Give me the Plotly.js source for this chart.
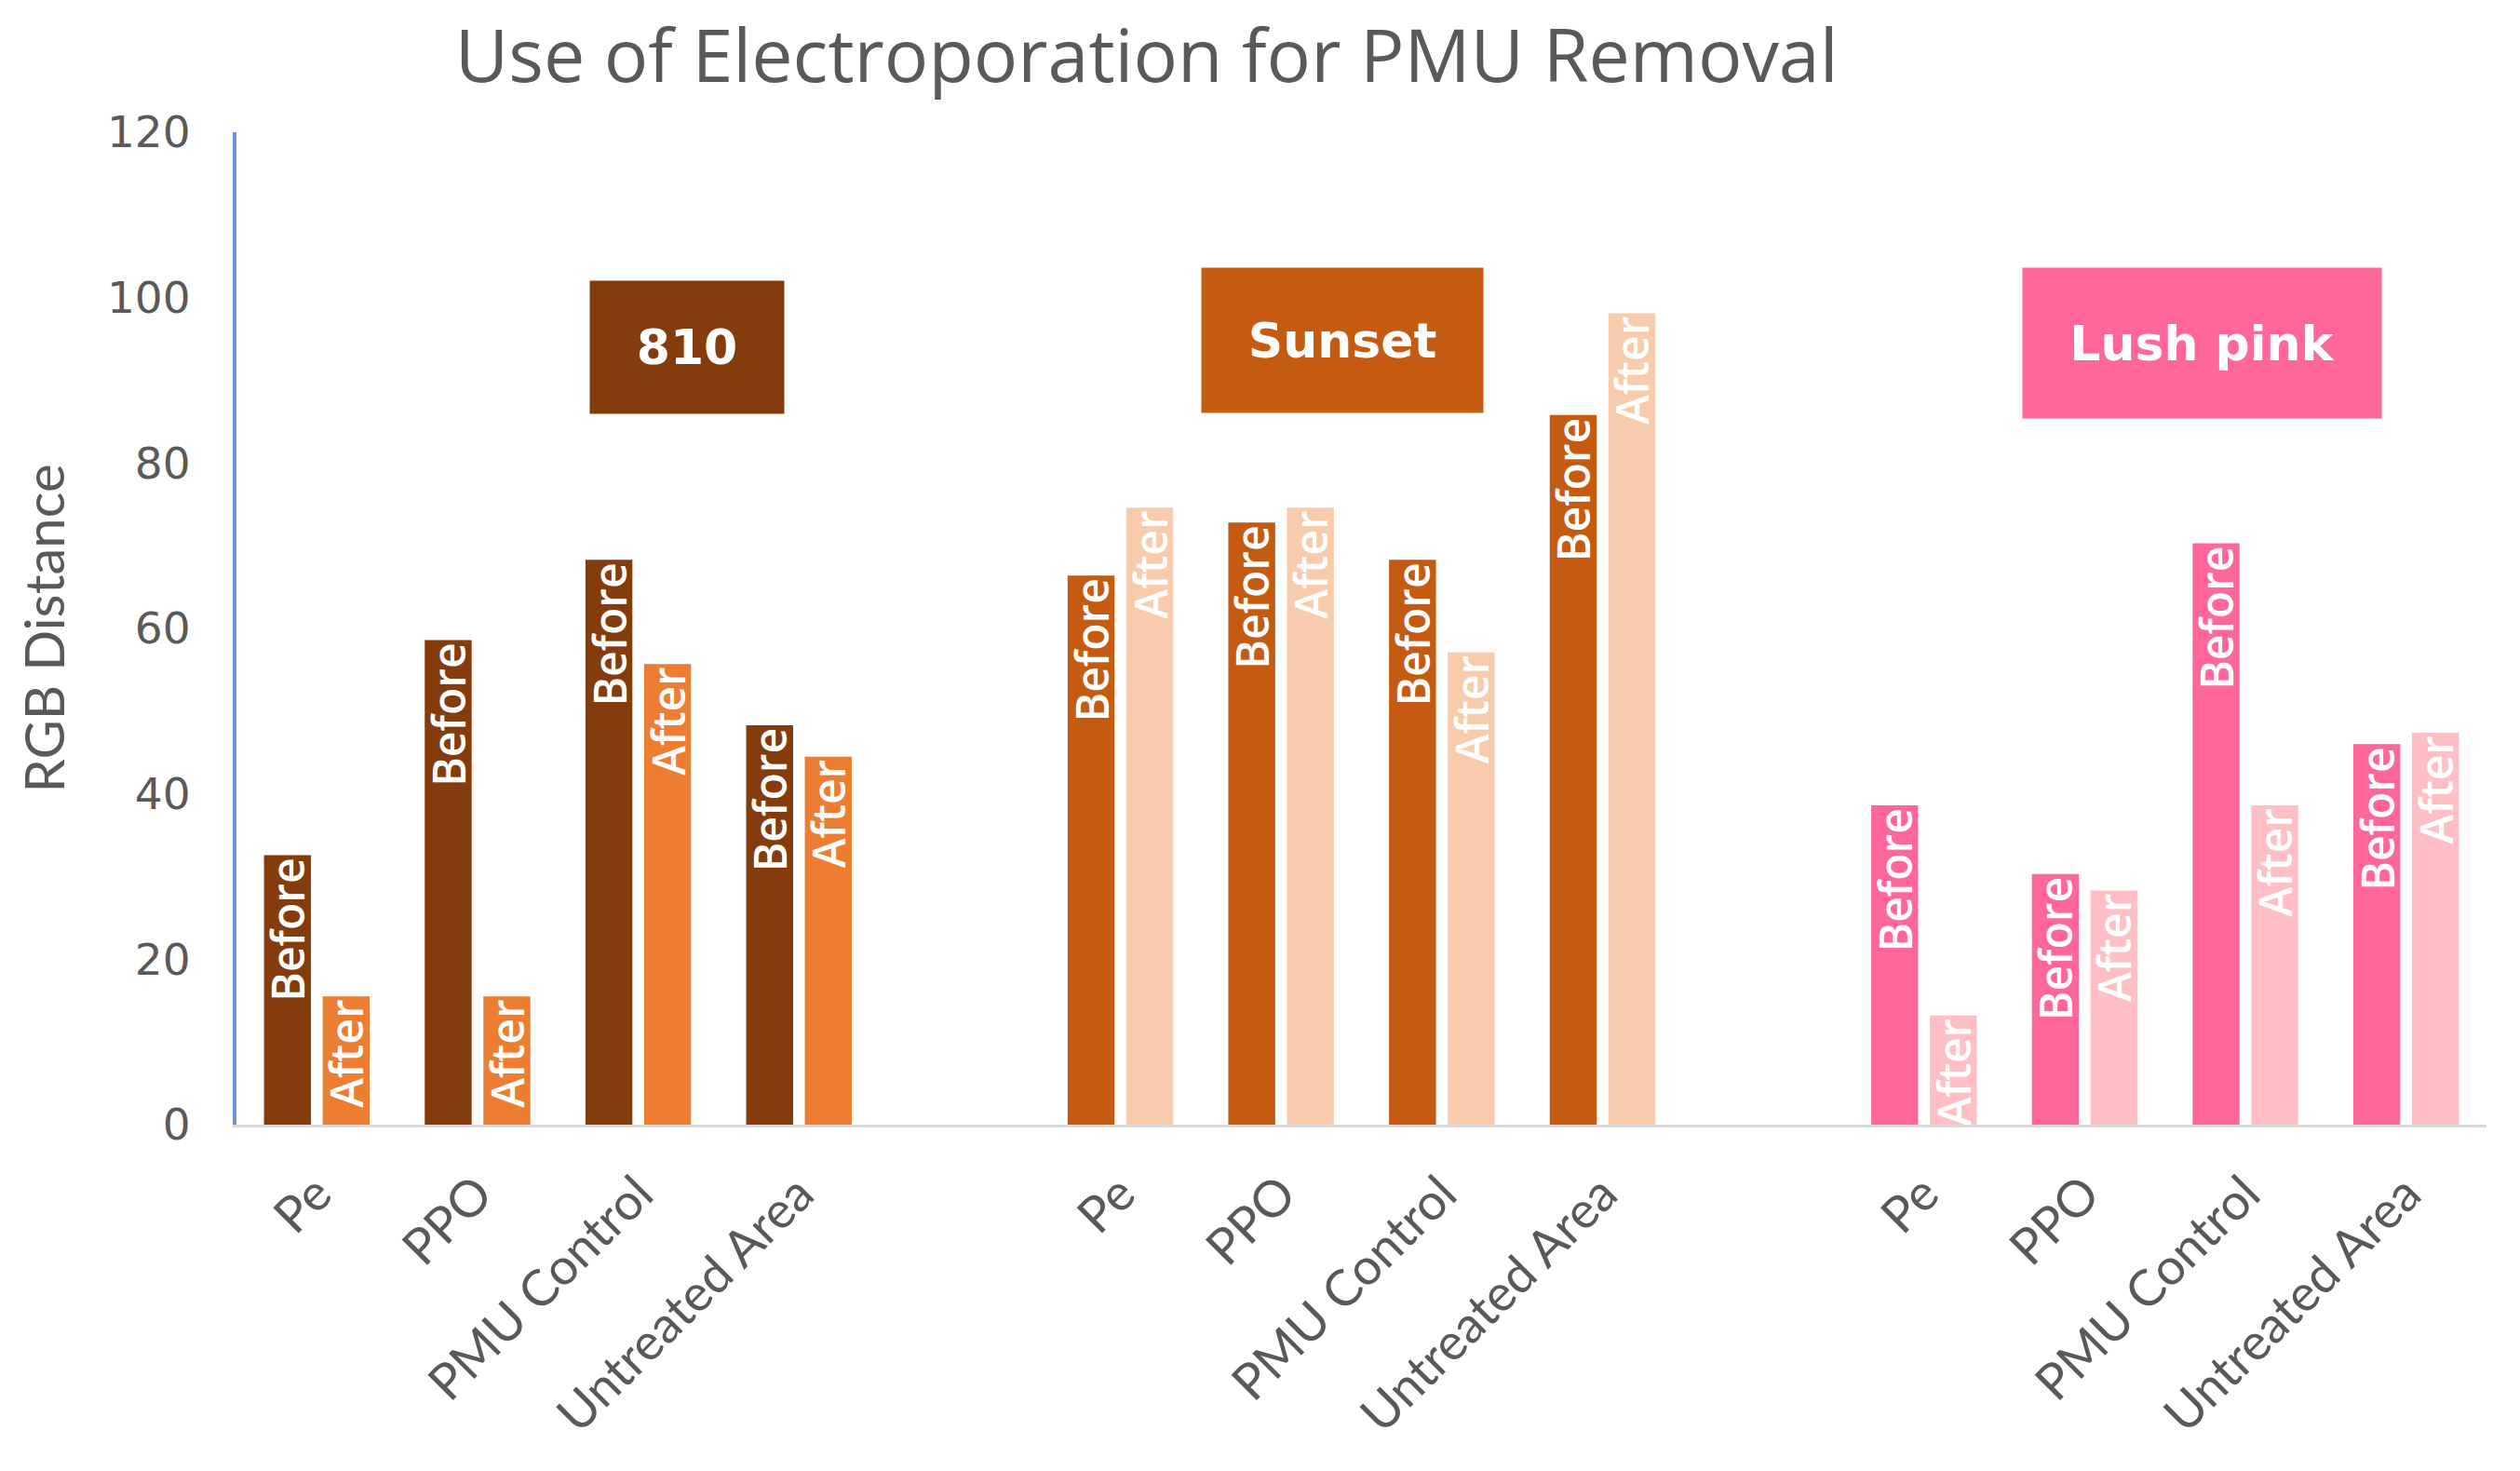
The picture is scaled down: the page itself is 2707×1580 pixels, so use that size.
<!DOCTYPE html>
<html>
<head>
<meta charset="utf-8">
<script src="https://cdn.plot.ly/plotly-3.0.1.min.js"></script>
<style>html,body{margin:0;padding:0;background:#fff;}#chart{width:2707px;height:1580px;}</style>
</head>
<body>
<div id="chart"></div>
<script>
// ---- data ----
const groups = ['810', 'Sunset', 'Lush pink'];
const categories = ['Pe', 'PPO', 'PMU Control', 'Untreated Area'];
const seriesNames = ['Before', 'After'];
const before810 = [32.6, 58.6, 68.3, 48.3];
const after810 = [15.5, 15.5, 55.7, 44.5];
const beforeSunset = [66.4, 72.8, 68.3, 85.8];
const afterSunset = [74.6, 74.6, 57.1, 98.1];
const beforeLushPink = [38.6, 30.3, 70.3, 46.0];
const afterLushPink = [13.2, 28.3, 38.6, 47.4];
const yTicks = [0, 20, 40, 60, 80, 100, 120];

// ---- styles ----
const beforeColors = ['#843C0C', '#C55A11', '#FF6699'];
const afterColors = ['#ED7D31', '#F8CBAD', '#FFBFC5'];
const groupBoxColors = ['#843C0C', '#C55A11', '#FF6699'];
const grey = '#595959';

// ---- build ----
const slotsPerGroup = categories.length + 1; // one empty slot between groups
const xPos = [], tickText = [], bCol = [], aCol = [];
groups.forEach((g, gi) => {
  categories.forEach((c, ci) => {
    xPos.push(gi * slotsPerGroup + ci);
    tickText.push(c);
    bCol.push(beforeColors[gi]);
    aCol.push(afterColors[gi]);
  });
});
const beforeVals = before810.concat(beforeSunset, beforeLushPink);
const afterVals = after810.concat(afterSunset, afterLushPink);

const textFont = {family: 'Open Sans, sans-serif', size: 48, color: '#ffffff', weight: 600};
const common = {
  type: 'bar', x: xPos, textposition: 'inside', insidetextanchor: 'end',
  textangle: -90, textfont: textFont, hoverinfo: 'x+y', cliponaxis: true
};
const traces = [
  Object.assign({}, common, {name: seriesNames[0], y: beforeVals, text: beforeVals.map(() => seriesNames[0]), marker: {color: bCol}}),
  Object.assign({}, common, {name: seriesNames[1], y: afterVals, text: afterVals.map(() => seriesNames[1]), marker: {color: aCol}})
];

const boxX = [0.2003, 0.4915, 0.8736];
const boxY = [94.0, 94.8, 94.5];
const boxW = [208, 302, 385];
const boxH = [142, 155, 161];
const annotations = groups.map((g, gi) => ({
  text: g, xref: 'paper', yref: 'y', x: boxX[gi], y: boxY[gi],
  xanchor: 'center', yanchor: 'middle', showarrow: false,
  bgcolor: groupBoxColors[gi], width: boxW[gi], height: boxH[gi], borderpad: 0,
  font: {family: 'DejaVu Sans, sans-serif', size: 52, color: '#ffffff', weight: 'bold'}
}));

const layout = {
  width: 2707, height: 1580,
  paper_bgcolor: '#ffffff', plot_bgcolor: '#ffffff',
  margin: {l: 254, r: 36, t: 142, b: 372, pad: 0},
  showlegend: false,
  barmode: 'group', bargap: 0.27, bargroupgap: 0.2,
  uniformtext: {mode: 'show', minsize: 48},
  title: {
    text: 'Use of Electroporation for PMU Removal',
    font: {family: 'Open Sans, sans-serif', size: 79, color: grey},
    xref: 'container', yref: 'container', x: 0.455, y: 0.962,
    xanchor: 'center', yanchor: 'middle'
  },
  xaxis: {
    range: [-0.5, groups.length * slotsPerGroup - 1.5],
    tickmode: 'array', tickvals: xPos, ticktext: tickText,
    tickangle: -45, ticks: '', showgrid: false, zeroline: false,
    showline: true, linecolor: '#D9D9D9', linewidth: 3,
    tickfont: {family: 'Lato, sans-serif', size: 54, color: grey},
    ticklabelstandoff: 18
  },
  yaxis: {
    range: [0, 120], tickmode: 'array', tickvals: yTicks,
    showgrid: false, zeroline: false, ticks: '',
    showline: true, linecolor: '#6A93D8', linewidth: 4,
    tickfont: {family: 'DejaVu Sans, sans-serif', size: 47, color: grey},
    ticklabelstandoff: 36,
    title: {text: 'RGB Distance', font: {family: 'Lato, sans-serif', size: 58, color: grey}, standoff: 28}
  },
  annotations: annotations
};

Plotly.newPlot('chart', traces, layout, {displayModeBar: false, staticPlot: true});
</script>
</body>
</html>
